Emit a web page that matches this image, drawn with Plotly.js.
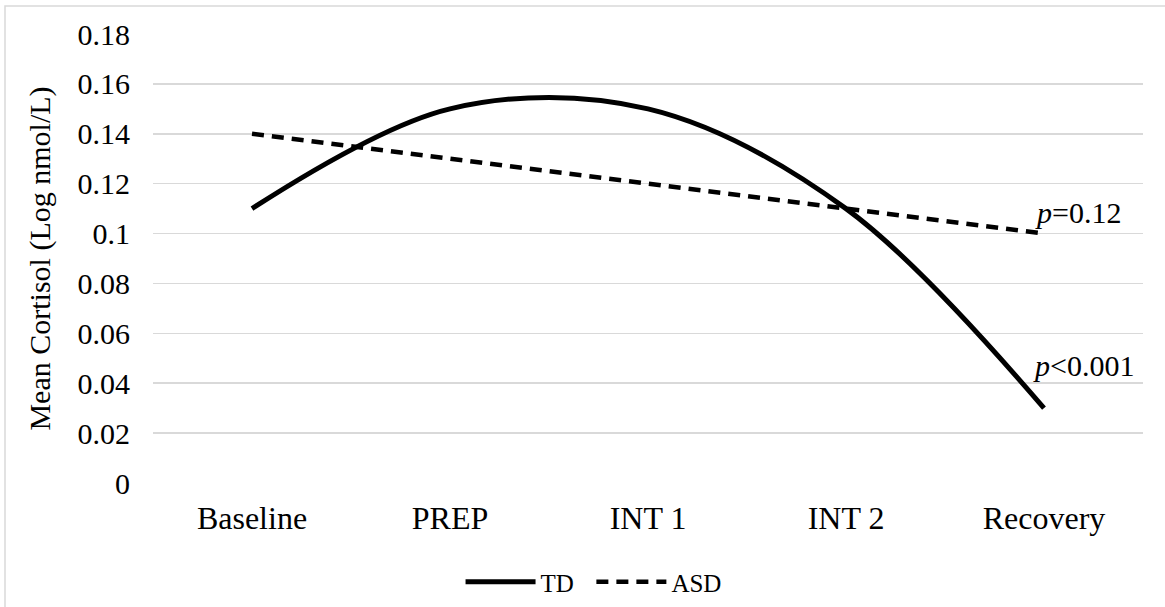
<!DOCTYPE html>
<html>
<head>
<meta charset="utf-8">
<script src="https://cdn.plot.ly/plotly-3.0.1.min.js"></script>
<style>html,body{margin:0;padding:0;background:#fff;}#chart{width:1165px;height:607px;}</style>
</head>
<body>
<div id="chart"></div>
<script>
var categories = ["Baseline", "PREP", "INT 1", "INT 2", "Recovery"];
var tdValues = [0.11, 0.15, 0.15, 0.11, 0.03];
var asdValues = [0.14, 0.13, 0.12, 0.11, 0.10];
var yTickVals = [0, 0.02, 0.04, 0.06, 0.08, 0.1, 0.12, 0.14, 0.16, 0.18];
var yTickText = ["0", "0.02", "0.04", "0.06", "0.08", "0.1", "0.12", "0.14", "0.16", "0.18"];

var FONT = "Liberation Serif";

var traces = [
  {
    x: categories, y: tdValues, name: "TD\u00a0\u00a0", type: "scatter", mode: "lines",
    line: {color: "#000", width: 5, shape: "spline", smoothing: 1}
  },
  {
    x: categories, y: asdValues, name: "ASD", type: "scatter", mode: "lines",
    line: {color: "#000", width: 4.5, dash: "12px,8px"}
  }
];

var layout = {
  width: 1165, height: 607,
  margin: {l: 153, r: 22, t: 34, b: 124},
  paper_bgcolor: "#fff", plot_bgcolor: "#fff",
  font: {family: FONT, color: "#000", size: 30},
  showlegend: true,
  legend: {
    orientation: "h", xref: "paper", x: 0.445, xanchor: "center",
    yref: "container", y: 0.041, yanchor: "middle",
    font: {family: FONT, size: 25, color: "#000"}, itemwidth: 70,
    bgcolor: "rgba(0,0,0,0)"
  },
  xaxis: {
    type: "category", range: [-0.5, 4.5], showgrid: false, zeroline: false,
    showline: false, ticks: "", ticklabelstandoff: 13, automargin: false,
    tickfont: {family: FONT, size: 32, color: "#000"}
  },
  yaxis: {
    range: [0, 0.18], tickvals: yTickVals, ticktext: yTickText, automargin: false,
    showgrid: true, gridcolor: "#d9d9d9", gridwidth: 1.5,
    zeroline: false, showline: false, ticks: "", ticklabelstandoff: 22,
    tickfont: {family: FONT, size: 30, color: "#000"},
    title: {text: "Mean Cortisol (Log nmol/L)", font: {family: FONT, size: 30, color: "#000"}, standoff: 18}
  },
  annotations: [
    {xref: "paper", yref: "y", x: 0.889, y: 0.1085, xanchor: "left", yanchor: "middle",
     text: "<i>p</i>=0.12", showarrow: false, font: {family: FONT, size: 30, color: "#000"}},
    {xref: "paper", yref: "y", x: 0.887, y: 0.047, xanchor: "left", yanchor: "middle",
     text: "<i>p</i>&lt;0.001", showarrow: false, font: {family: FONT, size: 30, color: "#000"}}
  ],
  shapes: [
    {type: "rect", xref: "paper", yref: "paper", x0: -0.1495, x1: 1.2, y0: -0.6, y1: 1.0624,
     line: {color: "#d9d9d9", width: 1.5}, fillcolor: "rgba(0,0,0,0)", layer: "below"}
  ]
};

Plotly.newPlot("chart", traces, layout, {displayModeBar: false, staticPlot: true});
</script>
</body>
</html>
